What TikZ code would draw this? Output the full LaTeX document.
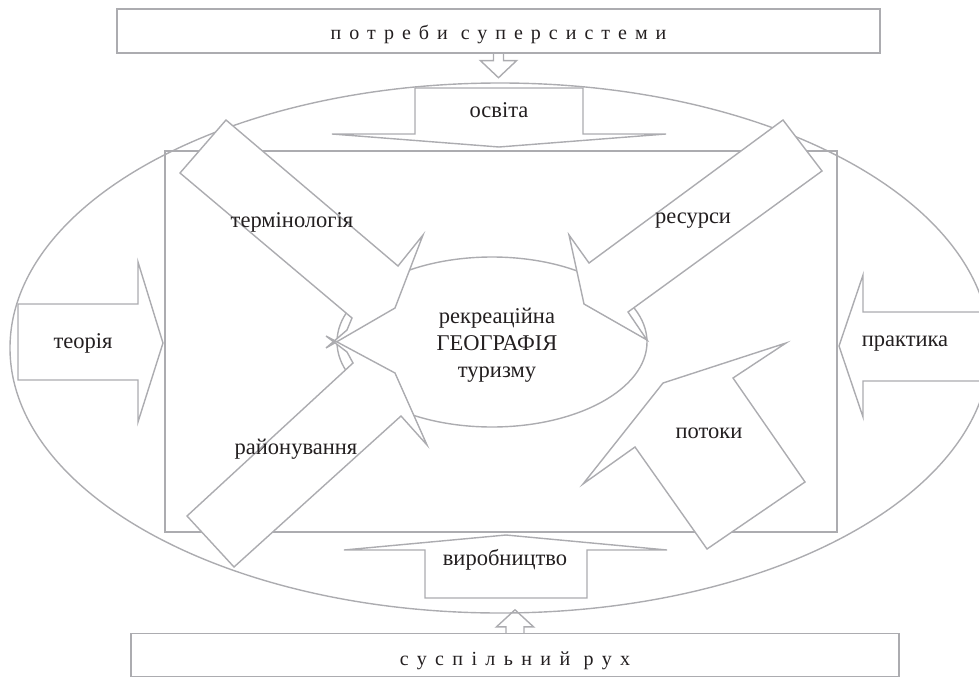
\documentclass[tikz,border=0pt]{standalone}
\usepackage{fontspec}
\setmainfont{Liberation Serif}
\definecolor{linegray}{RGB}{172,172,176}
\definecolor{inkgray}{RGB}{35,31,32}
\tikzset{
  outline/.style={draw=linegray, line width=1.4pt},
  blockarrow/.style={outline, fill=white},
  lbl/.style={text=inkgray, font=\fontsize{22.5}{27}\selectfont, inner sep=0pt, text height=10pt, text depth=0pt},
  bannerbox/.style={outline, fill=white, text=inkgray, font=\fontsize{20}{24}\selectfont\addfontfeature{LetterSpace=#1}},
}
\begin{document}
\begin{tikzpicture}[x=1pt,y=-1pt]
\useasboundingbox (0,0) rectangle (979,677);
%frame
\draw[outline] (500,348) ellipse [x radius=490, y radius=265];
\draw[outline] (165,151) rectangle (837,532);
\draw[outline] (492,342) ellipse [x radius=155, y radius=85];
%banners
\node[bannerbox=40, minimum width=763pt, minimum height=44pt, text height=22pt] (need) at (498.5,31) {потреби суперсистеми};
\node[bannerbox=42, minimum width=768pt, minimum height=43pt, text height=25pt] (move) at (515,655) {суспільний рух};
\draw[outline] ([xshift=-5pt]need.south) -- ++(0,7) -- ++(-13,0) -- ++(18,17) -- ++(18,-17) -- ++(-13,0) -- ++(0,-7);
\draw[outline] ([xshift=-9pt]move.north) -- ++(0,-6) -- ++(-9.5,0) -- ++(18.5,-17) -- ++(18.5,17) -- ++(-9.5,0) -- ++(0,6);
%up/down
\draw[blockarrow] (415,88) -- (583,88) -- (583,134) -- (666,134) -- (499,147) -- (332,134) -- (415,134) -- cycle;
\draw[blockarrow] (425,598) -- (587,598) -- (587,550) -- (667,550) -- (506,535) -- (344,550) -- (425,550) -- cycle;
%left/right
\draw[blockarrow] (18,304) -- (138,304) -- (138,262) -- (163,343) -- (138,422) -- (138,380) -- (18,380) -- cycle;
\draw[blockarrow] (985,312) -- (863,312) -- (863,275) -- (839,346) -- (863,417) -- (863,381) -- (985,381) -- cycle;
%diagonals
\draw[blockarrow] (226,120) -- (398,266) -- (423,235) -- (395,308) -- (326,348) -- (347,330) -- (352,318) -- (180,173) -- cycle;
\draw[blockarrow] (234,567) -- (187,516) -- (353,363) -- (347,352) -- (326,336) -- (395,373) -- (427,445) -- (401,416) -- cycle;
\draw[blockarrow] (783,120) -- (822,171) -- (628,312) -- (647,340) -- (584,304) -- (569,235) -- (589,263) -- cycle;
\draw[blockarrow] (786,343) -- (733,378) -- (805,482) -- (707,549) -- (635,447) -- (583,484) -- (663,383) -- cycle;
%labels
\node[lbl] (edu) at (499,112) {освіта};
\node[lbl] (prod) at (505,560) {виробництво};
\node[lbl] (theory) at (83,343) {теорія};
\node[lbl] (practice) at (905,341) {практика};
\node[lbl] (terms) at (292,222) {термінологія};
\node[lbl] (res) at (693,218) {ресурси};
\node[lbl] (zoning) at (296,449) {районування};
\node[lbl] (flows) at (709,433) {потоки};
\node[text=inkgray, font=\fontsize{22.5}{27}\selectfont, inner sep=0pt, align=center] (core) at (497,345) {рекреаційна\\ГЕОГРАФІЯ\\туризму};
\end{tikzpicture}
\end{document}
